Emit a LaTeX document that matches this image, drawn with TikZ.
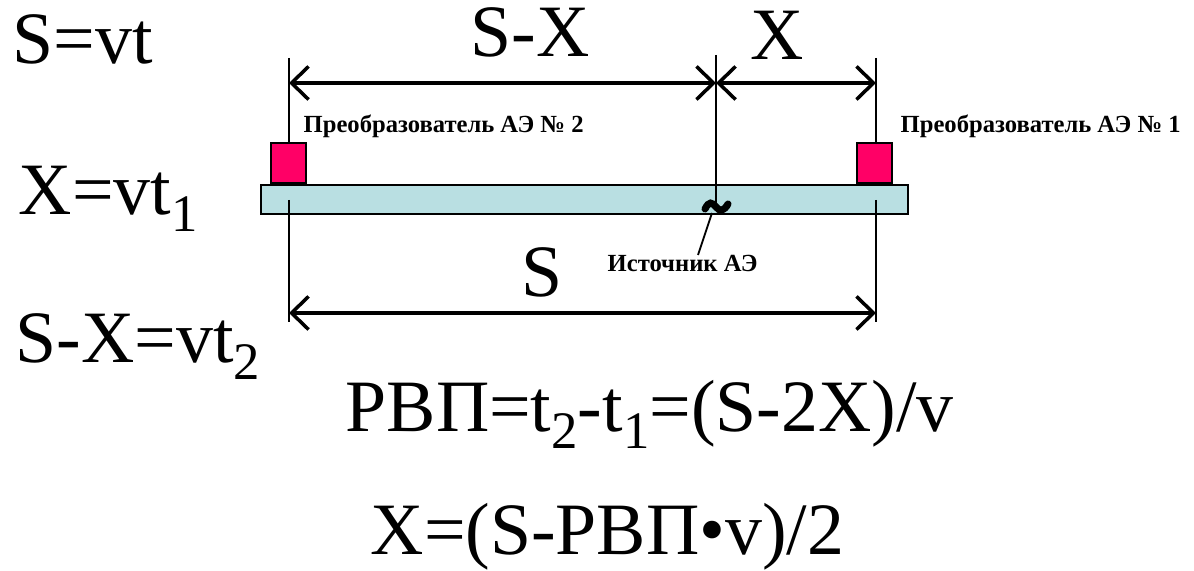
\documentclass[tikz,border=0pt]{standalone}
\usepackage{fontspec}
\setmainfont{Liberation Serif}
\usetikzlibrary{arrows.meta}
\definecolor{barblue}{HTML}{B9DFE2}
\definecolor{sensorred}{HTML}{FF0066}
\newcommand{\lowidx}[1]{\raisebox{-0.23em}{\fontsize{15}{15}\selectfont #1}}

\begin{document}
\begin{tikzpicture}[x=0.01cm, y=-0.01cm, every node/.style={inner sep=0pt, font=\fontsize{21}{25}\selectfont},
	lbl/.style={font=\fontsize{7}{8}\selectfont\bfseries},
	sensor/.style={draw, line width=0.5pt, fill=sensorred, minimum width=0.35cm, minimum height=0.40cm},
	dim/.style={<->, line width=1pt},
	ext/.style={line width=0.5pt},
	>={Straight Barb[length=1.7mm, width=3.3mm]}]
	\useasboundingbox (0,0) rectangle (1194,571);
	% bar with the two transducers
	\node[draw, line width=0.5pt, fill=barblue, minimum width=6.47cm, minimum height=0.29cm, anchor=north west] (bar) at (260,184) {};
	\node[sensor, anchor=south west] (tr2) at (270,184) {};
	\node[sensor, anchor=south west] (tr1) at (856,184) {};
	\node[lbl, anchor=base west] (lab2) at (303,133) {Преобразователь АЭ № 2};
	\node[lbl, anchor=base west] (lab1) at (900,133) {Преобразователь АЭ № 1};
	% extension lines
	\coordinate (top2) at (289,58);
	\coordinate (topm) at (716,55);
	\coordinate (top1) at (876,58);
	\coordinate (src) at (716,203);
	\coordinate (low2) at (289,200);
	\coordinate (low1) at (876,200);
	\coordinate (end2) at (289,322);
	\coordinate (end1) at (876,322);
	\draw[ext] (top2) -- (top2 |- tr2.north);
	\draw[ext] (top1) -- (top1 |- tr1.north);
	\draw[ext] (topm) -- (src);
	\draw[ext] (low2) -- (end2);
	\draw[ext] (low1) -- (end1);
	% dimensions
	\draw[dim] (top2 |- 0,83) -- (topm |- 0,83);
	\draw[dim] (topm |- 0,83) -- (top1 |- 0,83);
	\draw[dim] (end2 |- 0,313) -- (end1 |- 0,313);
	\node[anchor=base] (sx) at (530,57) {S-X};
	\node[anchor=base] (x) at (777,60) {X};
	\node[anchor=base] (s) at (542,297) {S};
	% source of acoustic emission
	\draw[line width=2pt, line cap=round] (705,209) .. controls (709,201) and (712,202) .. (716,207) .. controls (720,212) and (724,211) .. (728,204);
	\node[lbl, anchor=base west] (srclab) at (607,272) {Источник АЭ};
	\draw[ext] (712,213) -- (srclab.north -| 698,0);
	% formulas
	\node[anchor=base west] (f1) at (12,64) {S=vt};
	\node[anchor=base west] (f2) at (18,215) {X=vt\lowidx{1}};
	\node[anchor=base west] (f3) at (15,363) {S-X=vt\lowidx{2}};
	\node[anchor=base west] (f4) at (345,432) {РВП=t\lowidx{2}-t\lowidx{1}=(S-2X)/v};
	\node[anchor=base west] (f5) at (370,555) {X=(S-РВП•v)/2};
\end{tikzpicture}
\end{document}
